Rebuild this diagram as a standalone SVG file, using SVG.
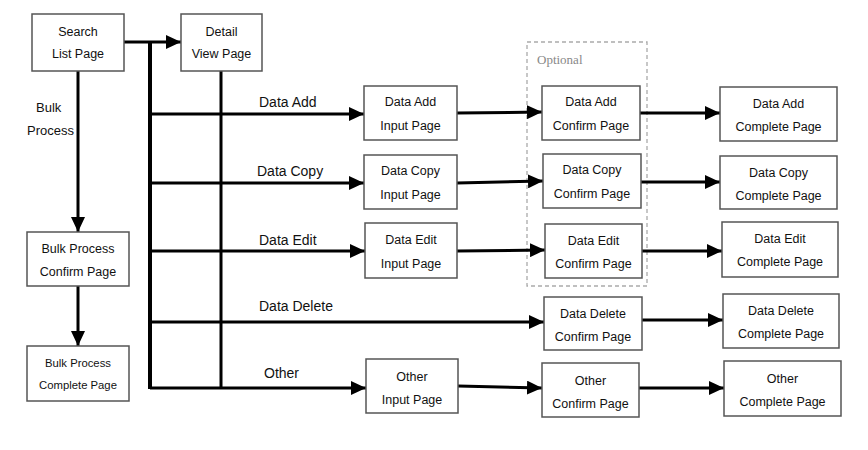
<svg xmlns="http://www.w3.org/2000/svg" width="868" height="450" viewBox="0 0 868 450">
<style>
.box{fill:#fff;stroke:#555;stroke-width:1.5}
.t{font-family:"Liberation Sans",Arial,sans-serif;font-size:12.5px;fill:#111;text-anchor:middle}
.ts{font-size:11.3px}
.el{font-family:"Liberation Sans",Arial,sans-serif;font-size:14px;fill:#111}
.bl{font-size:13px}
.ln{fill:none;stroke:#000;stroke-width:3}
.trunk{fill:none;stroke:#000;stroke-width:4}
.arr{marker-end:url(#ah)}
</style>
<defs>
<marker id="ah" markerUnits="userSpaceOnUse" markerWidth="15" markerHeight="14" refX="15" refY="7" orient="auto">
<path d="M0,0 L15,7 L0,14 z" fill="#000"/>
</marker>
</defs>
<rect width="868" height="450" fill="#fff"/>

<g id="optional">
<rect x="527" y="42" width="120" height="244" fill="none" stroke="#aaa" stroke-width="1.3" stroke-dasharray="4,3"/>
<text x="537" y="64" font-family="Liberation Serif,'Times New Roman',serif" font-size="13px" fill="#888">Optional</text>
</g>

<g id="connectors">
<line class="ln arr" x1="124" y1="42" x2="181" y2="42"/>
<line class="trunk" x1="150" y1="42" x2="150" y2="389"/>
<line class="ln" x1="221" y1="71" x2="221" y2="388"/>
<line class="ln arr" x1="78" y1="71" x2="78" y2="232"/>
<line class="ln arr" x1="78" y1="286" x2="78" y2="346"/>
<line class="ln arr" x1="150" y1="114" x2="364" y2="114"/>
<line class="ln arr" x1="150" y1="183" x2="364" y2="183"/>
<line class="ln arr" x1="150" y1="251" x2="365" y2="251"/>
<line class="ln arr" x1="150" y1="322" x2="544" y2="322"/>
<line class="ln arr" x1="150" y1="388" x2="366" y2="388"/>
<line class="ln arr" x1="457" y1="113" x2="542" y2="112"/>
<line class="ln arr" x1="457" y1="183" x2="543" y2="181"/>
<line class="ln arr" x1="457" y1="251" x2="545" y2="250"/>
<line class="ln arr" x1="458" y1="386" x2="542" y2="388"/>
<line class="ln arr" x1="640" y1="113" x2="720" y2="113"/>
<line class="ln arr" x1="641" y1="182" x2="720" y2="182"/>
<line class="ln arr" x1="642" y1="251" x2="722" y2="251"/>
<line class="ln arr" x1="642" y1="320" x2="723" y2="320"/>
<line class="ln arr" x1="639" y1="388" x2="724" y2="388"/>
<text class="el bl" x="36" y="112">Bulk</text>
<text class="el bl" x="27" y="135">Process</text>
<text class="el" x="259" y="107">Data Add</text>
<text class="el" x="257" y="176">Data Copy</text>
<text class="el" x="259" y="245">Data Edit</text>
<text class="el" x="259" y="311">Data Delete</text>
<text class="el" x="264" y="378">Other</text>
</g>

<g id="search-list"><rect class="box" x="32" y="14" width="92" height="57"/><text class="t" x="78" y="36">Search</text><text class="t" x="78" y="58">List Page</text></g>
<g id="detail-view"><rect class="box" x="181" y="14" width="81" height="57"/><text class="t" x="221.5" y="36">Detail</text><text class="t" x="221.5" y="58">View Page</text></g>
<g id="bulk-confirm"><rect class="box" x="27" y="232" width="102" height="54"/><text class="t" x="78" y="253">Bulk Process</text><text class="t" x="78" y="276">Confirm Page</text></g>
<g id="bulk-complete"><rect class="box" x="27" y="346" width="102" height="55"/><text class="t ts" x="78" y="367">Bulk Process</text><text class="t ts" x="78" y="389">Complete Page</text></g>

<g id="add-input"><rect class="box" x="364" y="86" width="93" height="54"/><text class="t" x="410.5" y="106">Data Add</text><text class="t" x="410.5" y="130">Input Page</text></g>
<g id="copy-input"><rect class="box" x="364" y="155" width="93" height="54"/><text class="t" x="410.5" y="175">Data Copy</text><text class="t" x="410.5" y="199">Input Page</text></g>
<g id="edit-input"><rect class="box" x="365" y="223" width="92" height="55"/><text class="t" x="411" y="244">Data Edit</text><text class="t" x="411" y="268">Input Page</text></g>
<g id="other-input"><rect class="box" x="366" y="359" width="92" height="54"/><text class="t" x="412" y="381">Other</text><text class="t" x="412" y="404">Input Page</text></g>

<g id="add-confirm"><rect class="box" x="542" y="86" width="98" height="54"/><text class="t" x="591" y="106">Data Add</text><text class="t" x="591" y="130">Confirm Page</text></g>
<g id="copy-confirm"><rect class="box" x="543" y="154" width="98" height="54"/><text class="t" x="592" y="174">Data Copy</text><text class="t" x="592" y="198">Confirm Page</text></g>
<g id="edit-confirm"><rect class="box" x="545" y="224" width="97" height="54"/><text class="t" x="593.5" y="245">Data Edit</text><text class="t" x="593.5" y="268">Confirm Page</text></g>
<g id="delete-confirm"><rect class="box" x="544" y="297" width="98" height="53"/><text class="t" x="593" y="318">Data Delete</text><text class="t" x="593" y="341">Confirm Page</text></g>
<g id="other-confirm"><rect class="box" x="542" y="363" width="97" height="54"/><text class="t" x="590.5" y="385">Other</text><text class="t" x="590.5" y="408">Confirm Page</text></g>

<g id="add-complete"><rect class="box" x="720" y="87" width="117" height="54"/><text class="t" x="778.5" y="108">Data Add</text><text class="t" x="778.5" y="131">Complete Page</text></g>
<g id="copy-complete"><rect class="box" x="720" y="156" width="117" height="53"/><text class="t" x="778.5" y="177">Data Copy</text><text class="t" x="778.5" y="200">Complete Page</text></g>
<g id="edit-complete"><rect class="box" x="722" y="222" width="116" height="55"/><text class="t" x="780" y="243">Data Edit</text><text class="t" x="780" y="266">Complete Page</text></g>
<g id="delete-complete"><rect class="box" x="723" y="294" width="116" height="54"/><text class="t" x="781" y="315">Data Delete</text><text class="t" x="781" y="338">Complete Page</text></g>
<g id="other-complete"><rect class="box" x="724" y="361" width="117" height="55"/><text class="t" x="782.5" y="383">Other</text><text class="t" x="782.5" y="406">Complete Page</text></g>
</svg>
